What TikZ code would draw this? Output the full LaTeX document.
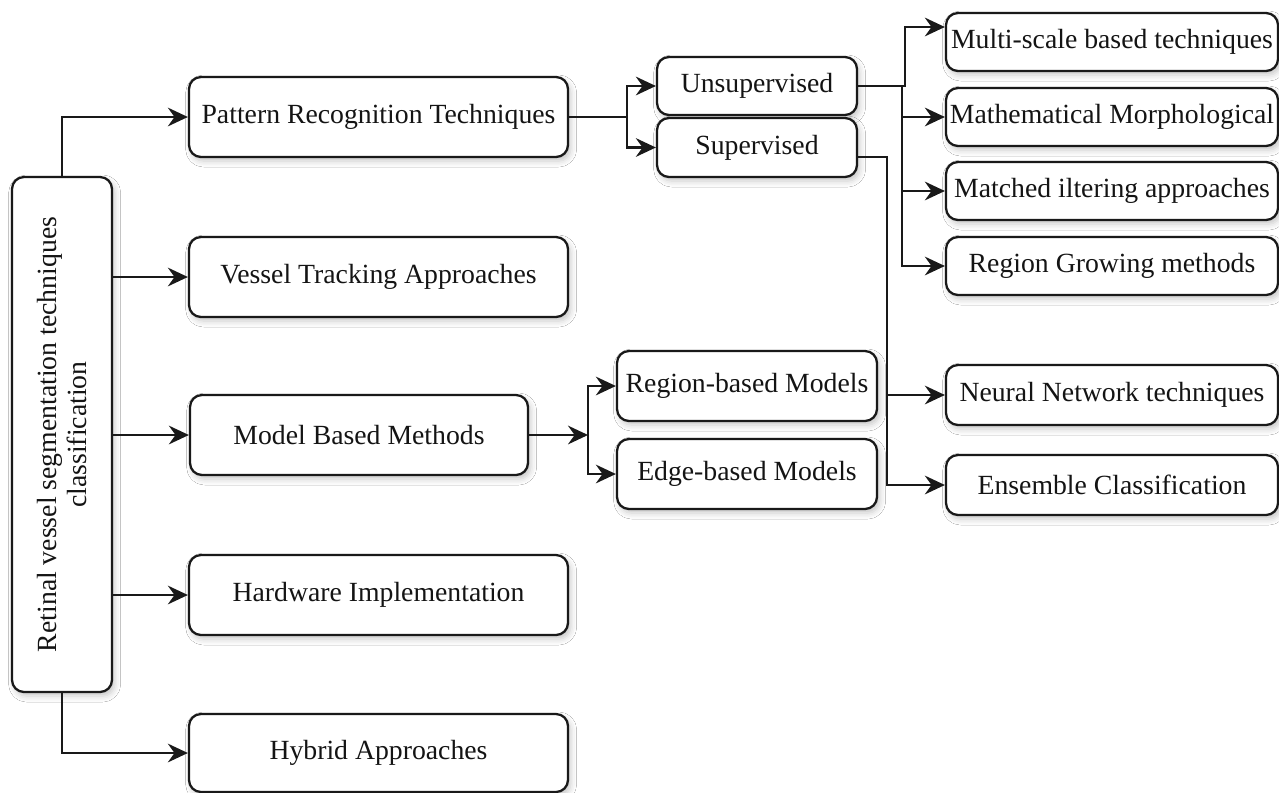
\documentclass[tikz,border=0pt]{standalone}
\usepackage{fontspec}
\setmainfont{Liberation Serif}
\usetikzlibrary{arrows.meta,shadows.blur,calc}
\begin{document}
\begin{tikzpicture}[x=0.75pt,y=-0.75pt,
  box/.style={draw=black!90, line width=1.7pt, rounded corners=9pt, fill=white,
    inner sep=0pt, align=center, font=\fontsize{20.8}{22}\selectfont, text=black!92,
    blur shadow={shadow xshift=2pt, shadow yshift=-3pt, shadow blur radius=4.5pt, shadow opacity=22}},
  sz/.style 2 args={minimum width=#1*0.75pt, minimum height=#2*0.75pt},
  conn/.style={line width=1.7pt, draw=black!90, -{Stealth[length=15pt,width=14pt,inset=5pt]}},
  ln/.style={line width=1.7pt, draw=black!90}]
\useasboundingbox[fill=white] (0,0) rectangle (1279,793);

% root
\node[box, rotate=90, sz={515}{100}] (root) at (62,434.5)
  {Retinal vessel segmentation techniques\\classification};

% first level
\node[box, sz={379}{80}] (prt) at (378.5,117) {Pattern Recognition Techniques};
\node[box, sz={379}{80}] (vessel) at (378.5,277) {Vessel Tracking Approaches};
\node[box, sz={338}{80}] (model) at (359,435) {Model Based Methods};
\node[box, sz={379}{80}] (hw) at (378.5,595) {Hardware Implementation};
\node[box, sz={379}{78}] (hyb) at (378.5,753) {Hybrid Approaches};

% second level
\node[box, sz={200}{58}] (unsup) at (757,86) {Unsupervised};
\node[box, sz={200}{59}] (sup) at (757,147.5) {Supervised};
\node[box, sz={260}{70}] (region) at (747,386) {Region-based Models};
\node[box, sz={260}{70}] (edge) at (747,474) {Edge-based Models};

% third level
\node[box, sz={332}{58}] (multi) at (1112,42) {Multi-scale based techniques};
\node[box, sz={332}{58}] (math) at (1112,117) {Mathematical Morphological};
\node[box, sz={332}{58}] (matched) at (1112,191) {Matched iltering approaches};
\node[box, sz={332}{58}] (rg) at (1112,266) {Region Growing methods};
\node[box, sz={332}{60}] (neural) at (1112,395) {Neural Network techniques};
\node[box, sz={332}{60}] (ens) at (1112,485) {Ensemble Classification};

% junction coordinates
\coordinate (j1) at (627,117);
\coordinate (j2) at (588,435);
\coordinate (j3up) at (905,27);
\coordinate (j3) at (902,87);
\coordinate (s1) at (857,157);
\coordinate (j4) at (887,395);

% root connectors
\draw[conn] (root.east) |- (prt);
\draw[conn] (root.south |- vessel) -- (vessel);
\draw[conn] (root.south |- model) -- (model);
\draw[conn] (root.south |- hw) -- (hw);
\draw[conn] (root.west) |- (hyb);

% pattern recognition
\draw[ln] (prt.east) -- (j1);
\draw[conn] (j1) |- (unsup);
\draw[conn] (j1) |- (sup);

% model based
\draw[conn] (model.east) -- (j2);
\draw[conn] (j2) |- (region);
\draw[conn] (j2) |- (edge);

% unsupervised
\draw[conn] (unsup.east) -| (j3up) -- (multi.west |- j3up);
\draw[conn] (j3) |- (math);
\draw[conn] (j3) |- (matched);
\draw[conn] (j3) |- (rg);

% supervised
\draw[ln] (s1) -| (j4);
\draw[conn] (j4) -- (neural);
\draw[conn] (j4) |- (ens);
\end{tikzpicture}
\end{document}
